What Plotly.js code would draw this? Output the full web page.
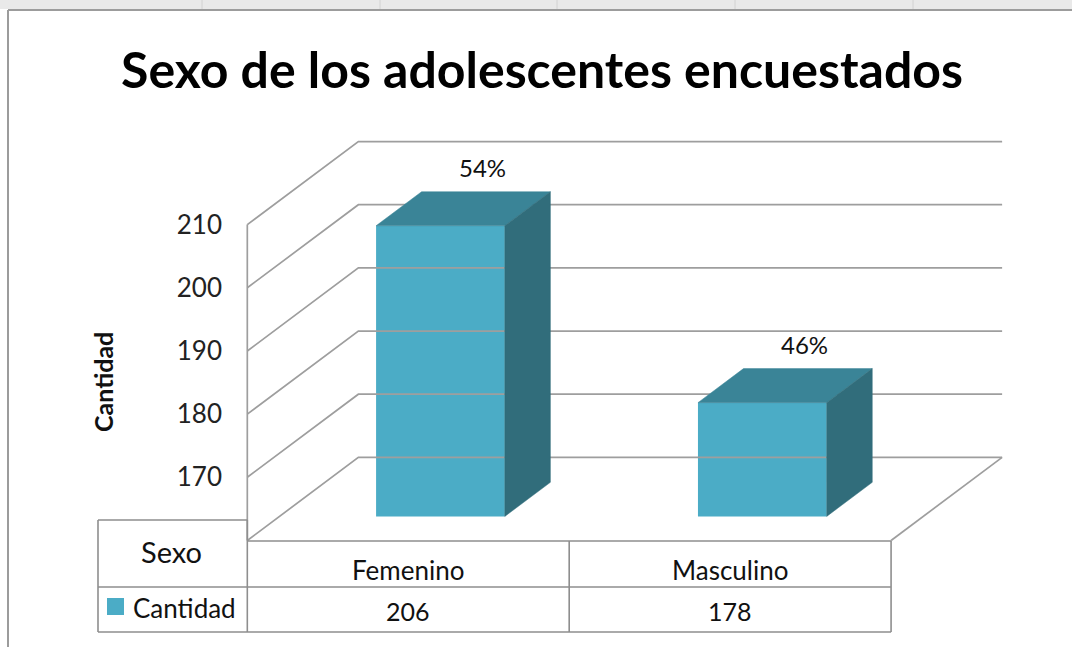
<!DOCTYPE html>
<html>
<head>
<meta charset="utf-8">
<script src="https://cdn.plot.ly/plotly-3.0.1.min.js"></script>
<style>
  html, body { margin: 0; padding: 0; background: #ffffff; }
  #chart { width: 1072px; height: 647px; }
</style>
</head>
<body>
<div id="chart"></div>
<script>
// ---------------- data ----------------
const chartTitle = 'Sexo de los adolescentes encuestados';
const categories = ['Femenino', 'Masculino'];
const values = [206, 178];
const seriesName = 'Cantidad';
const xTitle = 'Sexo';
const yTitle = 'Cantidad';
const tickVals = [170, 180, 190, 200, 210];
const axisMin = 160;
const axisMax = 210;

// ---------------- 3D look (layout only) ----------------
const W = 1072, H = 647;
const DX = 0.345;      // depth offset in category units
const DY = 13.15;      // depth offset in value units
const D0 = 0.29, D1 = 0.70; // bar depth start / end (fraction of depth)
const BARW = 0.4;
const pxPerX = 321.75, pxX0 = 247.5;   // pixel of x=-0.5 (front plane)
const pxPerY = 6.31,  pxY0 = 540.5;    // pixel of y=axisMin (front plane)

const n = categories.length;
const xr = [-0.5 - 0.06, (n - 0.5) + DX + 0.04];
const yr = [axisMin - 0.4, axisMax + DY + 0.4];

const mL = Math.round(pxX0 - (-0.5 - xr[0]) * pxPerX);
const plotW = Math.round((xr[1] - xr[0]) * pxPerX);
const mR = W - mL - plotW;
const plotBottom = Math.round(pxY0 + (axisMin - yr[0]) * pxPerY);
const mB = H - plotBottom;
const plotH = Math.round((yr[1] - yr[0]) * pxPerY);
const mT = plotBottom - plotH;

const xToPaper = xv => (xv - xr[0]) / (xr[1] - xr[0]);
const pxToPaperX = px => (px - mL) / plotW;
const pyToPaperY = py => (plotBottom - py) / plotH;

const colFront = '#4bacc6', colTop = '#3a8497', colSide = '#316d7b';
const gridCol = '#9e9e9e';
const tableCol = '#8e8e8e';
const txtCol = '#111111';
const FONT = 'Lato, "Open Sans", sans-serif';

const traces = [];

// walls + gridlines
const gx = [], gy = [];
[axisMin].concat(tickVals).forEach(v => {
  gx.push(-0.5, -0.5 + DX, (n - 0.5) + DX, null);
  gy.push(v, v + DY, v + DY, null);
});
// floor right diagonal
gx.push((n - 0.5) + DX, n - 0.5, null);
gy.push(axisMin + DY, axisMin, null);
// front-left vertical wall edge
gx.push(-0.5, -0.5, null);
gy.push(axisMin, axisMax, null);
traces.push({
  type: 'scatter', mode: 'lines', x: gx, y: gy,
  line: { color: gridCol, width: 1.7 }, hoverinfo: 'skip', showlegend: false
});

// bars: front faces as a real bar trace
traces.push({
  type: 'bar', name: seriesName,
  x: categories.map((c, i) => i + D0 * DX),
  y: values.map(v => v - axisMin),
  base: values.map(() => axisMin + D0 * DY),
  width: BARW,
  marker: { color: colFront, line: { width: 0 } },
  customdata: values, hovertemplate: '%{customdata}<extra></extra>',
  showlegend: false
});

// bar top and side faces
values.forEach((v, i) => {
  const xl = i - BARW / 2, xh = i + BARW / 2;
  traces.push({
    type: 'scatter', mode: 'lines', fill: 'toself',
    x: [xl + D0 * DX, xh + D0 * DX, xh + D1 * DX, xl + D1 * DX, xl + D0 * DX],
    y: [v + D0 * DY, v + D0 * DY, v + D1 * DY, v + D1 * DY, v + D0 * DY],
    fillcolor: colTop, line: { color: colTop, width: 0.5 },
    hoverinfo: 'skip', showlegend: false
  });
  traces.push({
    type: 'scatter', mode: 'lines', fill: 'toself',
    x: [xh + D0 * DX, xh + D1 * DX, xh + D1 * DX, xh + D0 * DX, xh + D0 * DX],
    y: [axisMin + D0 * DY, axisMin + D1 * DY, v + D1 * DY, v + D0 * DY, axisMin + D0 * DY],
    fillcolor: colSide, line: { color: colSide, width: 0.5 },
    hoverinfo: 'skip', showlegend: false
  });
});

const total = values.reduce((a, b) => a + b, 0);
const annotations = [];

// percent labels
values.forEach((v, i) => {
  annotations.push({
    x: i + D1 * DX, y: v + D1 * DY, xref: 'x', yref: 'y',
    text: Math.round(v / total * 100) + '%', showarrow: false,
    yanchor: 'bottom', yshift: 8, xshift: -3,
    font: { family: FONT, size: 24, color: txtCol }
  });
});

// y axis title
annotations.push({
  x: pxToPaperX(103), y: pyToPaperY(382), xref: 'paper', yref: 'paper',
  text: '<b>' + yTitle + '</b>', textangle: -90, showarrow: false,
  xanchor: 'center', yanchor: 'middle',
  font: { family: FONT, size: 25, color: txtCol }
});

// data table
const tTop = 541, tLeftTop = 520, tMid = 587, tBot = 632, tLeft = 98;
const shapes = [];
const line = (x0, y0, x1, y1) => shapes.push({
  type: 'line', xref: 'paper', yref: 'paper',
  x0: x0, y0: pyToPaperY(y0), x1: x1, y1: pyToPaperY(y1),
  line: { color: tableCol, width: 1.6 }
});
const pL = pxToPaperX(tLeft);
const pFront = xToPaper(-0.5);
const pRight = xToPaper(n - 0.5);
line(pFront, tTop, pRight, tTop);
line(pL, tLeftTop, pFront, tLeftTop);
line(pL, tMid, pRight, tMid);
line(pL, tBot, pRight, tBot);
line(pL, tLeftTop, pL, tBot);
line(pFront, tLeftTop, pFront, tBot);
for (let i = 0; i < n; i++) line(xToPaper(i + 0.5), tTop, xToPaper(i + 0.5), tBot);

categories.forEach((c, i) => {
  annotations.push({
    x: xToPaper(i), y: pyToPaperY((tTop + tMid) / 2 + 6), xref: 'paper', yref: 'paper',
    text: c, showarrow: false, xanchor: 'center', yanchor: 'middle',
    font: { family: FONT, size: 26, color: txtCol }
  });
  annotations.push({
    x: xToPaper(i), y: pyToPaperY((tMid + tBot) / 2 + 1), xref: 'paper', yref: 'paper',
    text: String(values[i]), showarrow: false, xanchor: 'center', yanchor: 'middle',
    font: { family: FONT, size: 25, color: txtCol }
  });
});
annotations.push({
  x: pxToPaperX(171), y: pyToPaperY(551), xref: 'paper', yref: 'paper',
  text: xTitle, showarrow: false, xanchor: 'center', yanchor: 'middle',
  font: { family: FONT, size: 29, color: txtCol }
});
annotations.push({
  x: pxToPaperX(131), y: pyToPaperY(608), xref: 'paper', yref: 'paper',
  text: seriesName, showarrow: false, xanchor: 'left', yanchor: 'middle',
  font: { family: FONT, size: 26, color: txtCol }
});
// legend key in table
shapes.push({
  type: 'rect', xref: 'paper', yref: 'paper',
  x0: pxToPaperX(107), x1: pxToPaperX(124), y0: pyToPaperY(615), y1: pyToPaperY(598),
  fillcolor: colFront, line: { width: 0 }
});

// spreadsheet strip and chart border
shapes.push({
  type: 'rect', xref: 'paper', yref: 'paper', layer: 'below',
  x0: pxToPaperX(0), x1: pxToPaperX(W), y0: pyToPaperY(9), y1: pyToPaperY(0),
  fillcolor: '#e9e9e9', line: { width: 0 }
});
[202, 380, 557, 735, 913].forEach(px => shapes.push({
  type: 'line', xref: 'paper', yref: 'paper',
  x0: pxToPaperX(px), x1: pxToPaperX(px), y0: pyToPaperY(9), y1: pyToPaperY(0),
  line: { color: '#d2d2d2', width: 1 }
}));
shapes.push({
  type: 'line', xref: 'paper', yref: 'paper',
  x0: pxToPaperX(8), x1: pxToPaperX(W), y0: pyToPaperY(10), y1: pyToPaperY(10),
  line: { color: '#9c9c9c', width: 2 }
});
shapes.push({
  type: 'line', xref: 'paper', yref: 'paper',
  x0: pxToPaperX(8), x1: pxToPaperX(8), y0: pyToPaperY(10), y1: pyToPaperY(H),
  line: { color: '#9c9c9c', width: 2 }
});

const layout = {
  width: W, height: H,
  margin: { l: mL, r: mR, t: mT, b: mB, pad: 0 },
  paper_bgcolor: '#ffffff', plot_bgcolor: 'rgba(0,0,0,0)',
  showlegend: false,
  title: {
    text: '<b>' + chartTitle + '</b>',
    x: pxToPaperX(542), xanchor: 'center', xref: 'paper',
    y: 1 - 70 / H, yanchor: 'middle', yref: 'container',
    font: { family: FONT, size: 50, color: '#000000' }
  },
  xaxis: {
    range: xr, showgrid: false, zeroline: false, showline: false,
    showticklabels: false, ticks: '', fixedrange: true
  },
  yaxis: {
    range: yr, tickvals: tickVals, ticktext: tickVals.map(String),
    showgrid: false, zeroline: false, showline: false, ticks: '',
    ticklabelstandoff: 5, fixedrange: true,
    tickfont: { family: FONT, size: 26, color: '#222222' }
  },
  annotations: annotations,
  shapes: shapes
};

Plotly.newPlot('chart', traces, layout, { displayModeBar: false, staticPlot: true });
</script>
</body>
</html>
